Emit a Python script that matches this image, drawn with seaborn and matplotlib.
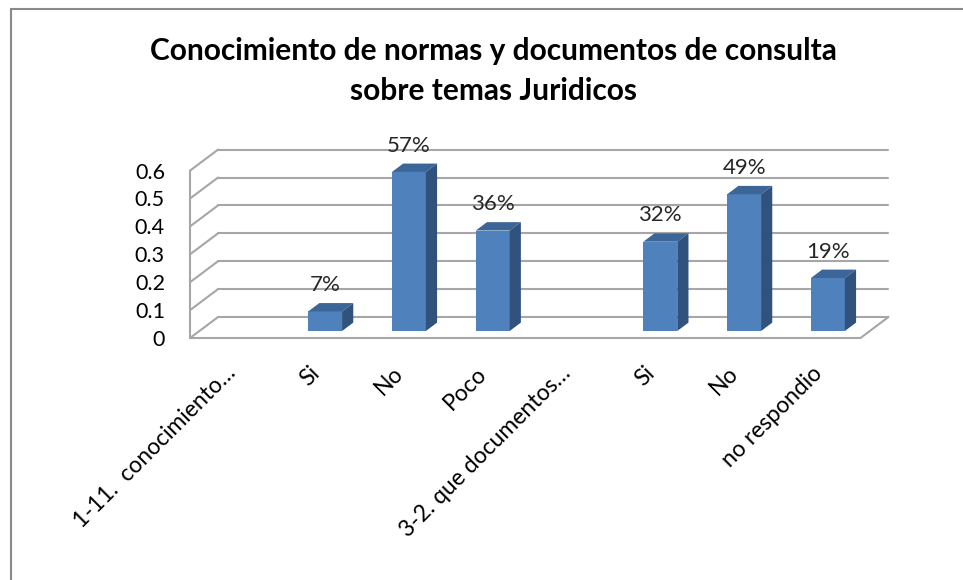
import numpy as np
import pandas as pd
import seaborn as sns
import matplotlib.pyplot as plt
from matplotlib.lines import Line2D
from matplotlib.patches import Polygon
from matplotlib.transforms import IdentityTransform, ScaledTranslation

sns.set_theme(style="white")
plt.rcParams["font.family"] = ["Lato", "DejaVu Sans"]

# Datos del gráfico
categorias = ["1-11.  conocimiento…", "Si", "No", "Poco",
              "3-2. que documentos…", "Si", "No", "no respondio"]
valores = [np.nan, 0.07, 0.57, 0.36, np.nan, 0.32, 0.49, 0.19]
yticks = [0, 0.1, 0.2, 0.3, 0.4, 0.5, 0.6]
ytick_labels = ["0", "0.1", "0.2", "0.3", "0.4", "0.5", "0.6"]
titulo = "Conocimiento de normas y documentos de consulta\nsobre temas Juridicos"

df = pd.DataFrame({"idx": range(len(categorias)), "valor": valores})

FRONT = "#4f81bd"
TOP = "#3c6698"
SIDE = "#30527d"
GRID = "#a6a6a6"

# profundidad 3D (pixeles) y posición de las barras dentro de la profundidad
DEPTH_X, DEPTH_Y = 28, 21
Z_BAR, Z_DEPTH = 1 / 3, 0.4

fig = plt.figure(figsize=(9.63, 5.8), dpi=100)
ax = fig.add_axes([199.4 / 963, 249 / 580, 670.4 / 963, 167.4 / 580])

sns.barplot(data=df, x="idx", y="valor", order=list(range(len(categorias))),
            color=FRONT, saturation=1, width=0.405, linewidth=0,
            errorbar=None, ax=ax, zorder=3)

ax.set_xlim(-0.5, len(categorias) - 0.5)
ax.set_ylim(0, 0.6)
ax.set_xlabel("")
ax.set_ylabel("")
sns.despine(ax=ax, left=True, bottom=True)
ax.patch.set_alpha(0)


def proj(x, v, z):
    px, py = ax.transData.transform((x, v))
    return (px + DEPTH_X * (z - Z_BAR), py + DEPTH_Y * (z - Z_BAR))


def linea(p0, p1):
    ax.add_artist(Line2D([p0[0], p1[0]], [p0[1], p1[1]], color=GRID, lw=1.5,
                         transform=IdentityTransform(), clip_on=False, zorder=1))


x0, x1 = ax.get_xlim()
# pared del fondo y pared lateral
for v in yticks:
    linea(proj(x0, v, 1), proj(x1, v, 1))
    linea(proj(x0, v, 0), proj(x0, v, 1))
linea(proj(x0, 0, 0), proj(x0, yticks[-1], 0))
# piso
linea(proj(x0, 0, 0), proj(x1, 0, 0))
linea(proj(x1, 0, 0), proj(x1, 0, 1))

# caras superior y lateral de las barras + etiquetas
for p in ax.patches:
    h = p.get_height()
    if not np.isfinite(h) or h == 0:
        continue
    a, b = p.get_x(), p.get_x() + p.get_width()
    top = [proj(a, h, Z_BAR), proj(b, h, Z_BAR),
           proj(b, h, Z_BAR + Z_DEPTH), proj(a, h, Z_BAR + Z_DEPTH)]
    side = [proj(b, 0, Z_BAR), proj(b, h, Z_BAR),
            proj(b, h, Z_BAR + Z_DEPTH), proj(b, 0, Z_BAR + Z_DEPTH)]
    for pts, c in [(top, TOP), (side, SIDE)]:
        ax.add_artist(Polygon(pts, closed=True, fc=c, ec="none",
                              transform=IdentityTransform(), clip_on=False, zorder=3))
    ax.annotate(f"{h:.0%}", xy=(a + p.get_width() / 2, h), xytext=(0, 19),
                textcoords="offset points", ha="center", va="center",
                fontsize=16, color="#262626", zorder=4)

# ejes
ax.set_yticks(yticks, ytick_labels)
ax.set_xticks(range(len(categorias)), categorias)
ax.tick_params(axis="y", length=0, pad=24.8, labelsize=15.5, labelcolor="black")
ax.tick_params(axis="x", length=0, pad=23, labelsize=16.5, labelcolor="black")
front_off = ScaledTranslation(-DEPTH_X * Z_BAR / 100, -DEPTH_Y * Z_BAR / 100,
                              fig.dpi_scale_trans)
for lab in ax.get_yticklabels():
    lab.set_transform(lab.get_transform() + ScaledTranslation(0, -DEPTH_Y * Z_BAR / 100,
                                                              fig.dpi_scale_trans))
for lab in ax.get_xticklabels():
    lab.set_rotation(45)
    lab.set_ha("right")
    lab.set_va("center")
    lab.set_rotation_mode("anchor")
    lab.set_transform(lab.get_transform() + front_off)

fig.text(493 / 963, 1 - 71 / 580, titulo, ha="center", va="center",
         fontsize=21.5, fontweight="bold", linespacing=1.5, color="black")

# marco del gráfico
fig.add_artist(Line2D([11 / 963, 11 / 963], [0, 1 - 9 / 580], color="#898989", lw=1.5,
                      transform=fig.transFigure))
fig.add_artist(Line2D([11 / 963, 1], [1 - 9 / 580, 1 - 9 / 580], color="#898989", lw=1.5,
                      transform=fig.transFigure))

fig.savefig("out.png", dpi=100, facecolor="white")
